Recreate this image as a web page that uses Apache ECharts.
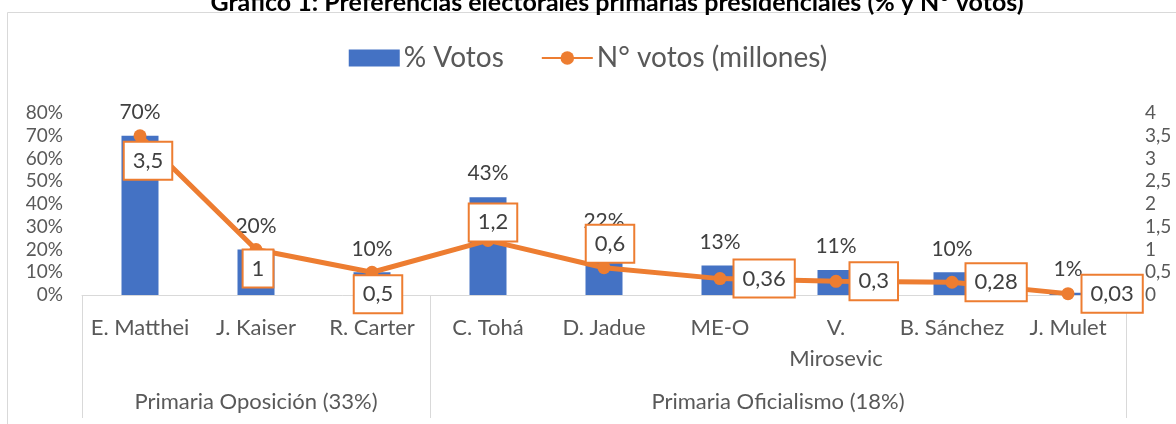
<!DOCTYPE html>
<html>
<head>
<meta charset="utf-8">
<script src="https://cdn.jsdelivr.net/npm/echarts@6/dist/echarts.min.js"></script>
<style>
html,body{margin:0;padding:0;background:#fff;}
#chart{width:1176px;height:424px;}
</style>
</head>
<body>
<div id="chart"></div>
<script>
const titleText = 'Gráfico 1: Preferencias electorales primarias presidenciales (% y N° votos)';
const categories = ['E. Matthei', 'J. Kaiser', 'R. Carter', 'C. Tohá', 'D. Jadue', 'ME-O', 'V. Mirosevic', 'B. Sánchez', 'J. Mulet'];
const groupNames = ['Primaria Oposición (33%)', 'Primaria Oficialismo (18%)'];
const groupSizes = [3, 6];
const pctVotes = [70, 20, 10, 43, 22, 13, 11, 10, 1];
const millionVotes = [3.5, 1, 0.5, 1.2, 0.6, 0.36, 0.3, 0.28, 0.03];
const leftTicks = {min: 0, max: 80, interval: 10};
const rightTicks = {min: 0, max: 4, interval: 0.5};
const seriesNames = ['% Votos', 'N° votos (millones)'];

// label placement (style config, not data)
const lineLabelPlacement = [
  {position: 'inside', offset: [8, 25]},
  {position: 'inside', offset: [2, 19]},
  {position: 'inside', offset: [6, 22]},
  {position: 'inside', offset: [5, -18]},
  {position: 'inside', offset: [6, -24]},
  {position: 'right'}, {position: 'right'}, {position: 'right'}, {position: 'right'}
];

const FONT = 'Lato';
const comma = v => String(v).replace('.', ',');

// group boundaries and centers
const bounds = [0];
const centers = [];
groupSizes.forEach(s => { const b = bounds[bounds.length - 1]; centers.push(b + s / 2); bounds.push(b + s); });

const chart = echarts.init(document.getElementById('chart'), null, {renderer: 'canvas'});
chart.setOption({
  animation: false,
  backgroundColor: '#fff',
  textStyle: {fontFamily: FONT},
  title: {
    text: titleText, left: 612, top: -15, textAlign: 'center',
    textStyle: {fontFamily: FONT, fontWeight: 'bold', fontSize: 25, color: '#000'}
  },
  graphic: [{
    type: 'rect', silent: true, z: -10,
    shape: {x: 7.5, y: 12.5, width: 1300, height: 600},
    style: {fill: 'none', stroke: '#d9d9d9', lineWidth: 1}
  }],
  legend: {
    top: 39, left: 'center',
    itemWidth: 51, itemHeight: 17, itemGap: 37,
    textStyle: {fontFamily: FONT, fontSize: 28, color: '#595959', padding: [0, 0, 0, -1]},
    data: [
      {name: seriesNames[0], icon: 'rect'},
      {name: seriesNames[1]}
    ]
  },
  grid: {left: 82, right: 50, top: 113, bottom: 129, containLabel: false},
  xAxis: [{
    type: 'category', data: categories,
    axisLine: {show: true, lineStyle: {color: '#d9d9d9', width: 1}},
    axisTick: {show: false},
    axisLabel: {
      interval: 0, margin: 17, fontFamily: FONT, fontSize: 22, color: '#595959', lineHeight: 31,
      formatter: v => v.length > 10 ? v.replace(' ', '\n') : v
    }
  }, {
    type: 'value', position: 'bottom', min: 0, max: bounds[bounds.length - 1],
    axisLine: {show: false},
    splitLine: {show: false},
    axisTick: {show: true, customValues: bounds, length: 123, lineStyle: {color: '#d9d9d9', width: 1}},
    axisLabel: {
      customValues: centers, margin: 96, fontFamily: FONT, fontSize: 22, color: '#595959',
      formatter: v => groupNames[centers.indexOf(v)] || ''
    }
  }],
  yAxis: [{
    type: 'value', min: leftTicks.min, max: leftTicks.max, interval: leftTicks.interval,
    axisLine: {show: false}, axisTick: {show: false}, splitLine: {show: false},
    axisLabel: {margin: 19, fontFamily: FONT, fontSize: 19, color: '#595959', formatter: v => Math.round(v) + '%'}
  }, {
    type: 'value', min: rightTicks.min, max: rightTicks.max, interval: rightTicks.interval,
    axisLine: {show: false}, axisTick: {show: false}, splitLine: {show: false},
    axisLabel: {margin: 19, fontFamily: FONT, fontSize: 19, color: '#595959', formatter: v => comma(v)}
  }],
  series: [{
    name: seriesNames[0], type: 'bar', yAxisIndex: 0, xAxisIndex: 0,
    data: pctVotes, barWidth: 37,
    itemStyle: {color: '#4472C4'},
    label: {show: true, position: 'top', distance: 13, fontFamily: FONT, fontSize: 21, color: '#404040', formatter: p => p.value + '%'}
  }, {
    name: seriesNames[1], type: 'line', yAxisIndex: 1, xAxisIndex: 0,
    data: millionVotes.map((v, i) => ({value: v, label: lineLabelPlacement[i]})),
    symbol: 'circle', symbolSize: 13,
    lineStyle: {color: '#ED7D31', width: 5},
    itemStyle: {color: '#ED7D31'},
    label: {
      show: true, distance: 8, fontFamily: FONT, fontSize: 22, color: '#404040',
      backgroundColor: '#fff', borderColor: '#ED7D31', borderWidth: 2, padding: [7, 8, 6, 8],
      lineHeight: 23,
      formatter: p => comma(p.value)
    },
    z: 3
  }]
});
</script>
</body>
</html>
